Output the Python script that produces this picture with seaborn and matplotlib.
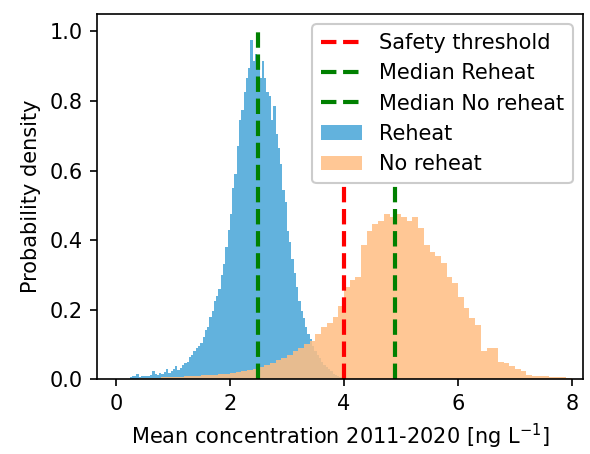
import numpy as np
import matplotlib
matplotlib.use("Agg")
import matplotlib.pyplot as plt
import seaborn as sns

# Histogram bin heights (density)
reheat_start = 0.24
reheat_width = 0.04
reheat_density = [
    0.005, 0.008, 0.008, 0.014, 0.006, 0.008, 0.008, 0.010, 0.008, 0.012,
    0.024, 0.016, 0.012, 0.018, 0.014, 0.020, 0.030, 0.018, 0.024, 0.028,
    0.037, 0.026, 0.032, 0.040, 0.045, 0.050, 0.063, 0.068, 0.080, 0.088,
    0.094, 0.105, 0.120, 0.140, 0.150, 0.180, 0.195, 0.225, 0.240, 0.260,
    0.300, 0.330, 0.380, 0.430, 0.475, 0.550, 0.590, 0.670, 0.745, 0.775,
    0.825, 0.865, 0.895, 0.975, 0.915, 0.935, 0.905, 0.865, 0.915, 0.865,
    0.825, 0.815, 0.745, 0.785, 0.705, 0.665, 0.620, 0.545, 0.510, 0.425,
    0.395, 0.345, 0.305, 0.265, 0.225, 0.195, 0.175, 0.150, 0.130, 0.115,
    0.095, 0.080, 0.070, 0.060, 0.050, 0.040, 0.035, 0.028, 0.022, 0.016,
    0.012, 0.008, 0.005, 0.003, 0.002,
]

noreheat_start = 0.40
noreheat_width = 0.10
noreheat_density = [
    0.002, 0.003, 0.003, 0.004, 0.005, 0.005, 0.006, 0.007, 0.008, 0.009,
    0.010, 0.011, 0.012, 0.013, 0.014, 0.015, 0.018, 0.020, 0.023, 0.026,
    0.030, 0.034, 0.040, 0.046, 0.055, 0.062, 0.070, 0.080, 0.090, 0.100,
    0.110, 0.130, 0.150, 0.160, 0.180, 0.210, 0.265, 0.285, 0.295, 0.385,
    0.425, 0.445, 0.455, 0.475, 0.465, 0.475, 0.465, 0.455, 0.465, 0.435,
    0.385, 0.365, 0.355, 0.335, 0.295, 0.275, 0.235, 0.205, 0.175, 0.155,
    0.080, 0.090, 0.090, 0.050, 0.045, 0.038, 0.030, 0.024, 0.012, 0.010,
    0.008, 0.008, 0.006, 0.005, 0.005, 0.004,
]

safety_threshold = 4.0
median_reheat = 2.49
median_noreheat = 4.89


def bins_for(start, width, values):
    edges = start + width * np.arange(len(values) + 1)
    centers = (edges[:-1] + edges[1:]) / 2
    return edges.tolist(), centers


fig = plt.figure(figsize=(590 / 150, 454 / 150), dpi=150)
ax = fig.add_axes([0.1644, 0.165, 0.8236, 0.804])

# dashed reference lines first so they lead the legend
ax.plot([safety_threshold] * 2, [0, 1], color="red", linestyle="--", lw=2, label="Safety threshold")
ax.plot([median_reheat] * 2, [0, 1], color="green", linestyle="--", lw=2, label="Median Reheat")
ax.plot([median_noreheat] * 2, [0, 1], color="green", linestyle="--", lw=2, label="Median No reheat")

edges_r, centers_r = bins_for(reheat_start, reheat_width, reheat_density)
sns.histplot(x=centers_r, weights=np.array(reheat_density), bins=edges_r, stat="count",
             element="step", fill=True, color="#62b2dd", alpha=1.0,
             linewidth=0, label="Reheat", ax=ax)

edges_n, centers_n = bins_for(noreheat_start, noreheat_width, noreheat_density)
sns.histplot(x=centers_n, weights=np.array(noreheat_density), bins=edges_n, stat="count",
             element="step", fill=True, color="#ffbe83", alpha=0.85,
             linewidth=0, label="No reheat", ax=ax)

ax.set_xlim(-0.33, 8.19)
ax.set_ylim(0, 1.05)
ax.set_xticks([0, 2, 4, 6, 8])
ax.set_yticks([0.0, 0.2, 0.4, 0.6, 0.8, 1.0])
ax.set_xlabel("Mean concentration 2011-2020 [ng L$^{-1}$]")
ax.set_ylabel("Probability density")
ax.legend(loc="upper right", framealpha=1)

fig.savefig("out.png", dpi=150)
